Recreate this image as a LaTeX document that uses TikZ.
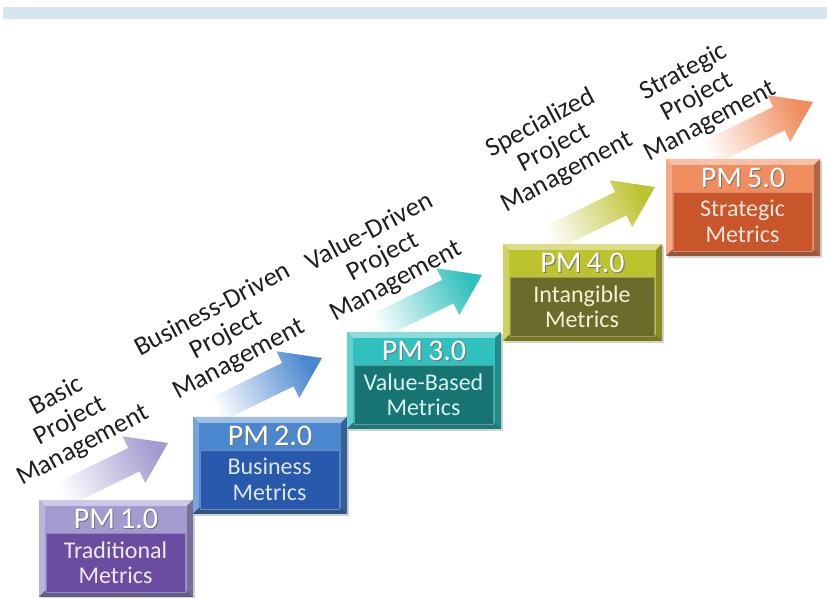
\documentclass[tikz,border=0pt]{standalone}
\usepackage{fontspec}
\setmainfont{Carlito}
\usetikzlibrary{calc}

\definecolor{bandBlue}{HTML}{D6E6EF}
\definecolor{pmPurple}{HTML}{A39BD0}
\definecolor{pmPurpleDark}{HTML}{6C4CA0}
\definecolor{pmBlue}{HTML}{4A87CF}
\definecolor{pmBlueDark}{HTML}{2959AC}
\definecolor{pmTeal}{HTML}{30C0BD}
\definecolor{pmTealDark}{HTML}{167572}
\definecolor{pmOlive}{HTML}{BDC22F}
\definecolor{pmOliveDark}{HTML}{6D6B2C}
\definecolor{pmOrange}{HTML}{F08D5F}
\definecolor{pmOrangeDark}{HTML}{C8562A}

\tikzset{
  % seta larga com degradê (cauda branca -> ponta colorida)
  stepArrow/.style={top color=#1, bottom color=white, shading angle=-64},
  % texto inclinado acima de cada seta
  stepLabel/.style={rotate=28, align=center, text=black!88, inner sep=0pt,
    font=\fontsize{20}{21}\selectfont},
  % "PM x.0" no topo da caixa
  pmTitle/.style={text=white, inner sep=0pt, font=\fontsize{22.5}{24}\selectfont},
  pmTitleShadow/.style={pmTitle, text=black!55},
  % texto do painel escuro
  pmBody/.style={align=center, inner sep=0pt, font=\fontsize{18}{19}\selectfont}
}

\begin{document}
\begin{tikzpicture}[x=0.75pt, y=0.75pt]
  \useasboundingbox (0,0) rectangle (827,598);

  % faixa azul do topo
  \fill[bandBlue] (3,579) rectangle (827,591);

  % --- DEGRAUS: seta, rótulo e caixa ---
  \foreach \i/\L/\R/\B/\fc/\ic/\body/\tx/\ty/\lx/\ly/\lab in {
      1/39/193/1/pmPurple/pmPurpleDark/{Traditional\\Metrics}/168/155/70/177/{Basic\\Project\\Management},
      2/193/347/84/pmBlue/pmBlueDark/{Business\\Metrics}/322/240/226/263/{Business-Driven\\Project\\Management},
      3/347/501/169/pmTeal/pmTealDark/{Value-Based\\Metrics}/482/323/383/341/{Value-Driven\\Project\\Management},
      4/503/662/257/pmOlive/pmOliveDark/{Intangible\\Metrics}/655/411/554/450/{Specialized\\Project\\Management},
      5/666/820/342/pmOrange/pmOrangeDark/{Strategic\\Metrics}/813/496/697/501/{Strategic\\Project\\Management}} {

    % Seta (eixo a 26 graus)
    \coordinate (tip\i) at (\tx,\ty);
    \shade[stepArrow=\fc] (tip\i)
      -- ($(tip\i)+(206:38)+(116:26)$)
      -- ($(tip\i)+(206:38)+(116:13)$)
      -- ($(tip\i)+(206:125)+(116:13)$)
      -- ($(tip\i)+(206:125)+(296:13)$)
      -- ($(tip\i)+(206:38)+(296:13)$)
      -- ($(tip\i)+(206:38)+(296:26)$)
      -- cycle;

    \node[stepLabel] (lab\i) at (\lx,\ly) {\lab};

    % Caixa em relevo
    \fill[black!35, opacity=0.5] (\L+2,\B-2) rectangle (\R+2,\B+95);
    \fill[\fc] (\L,\B) rectangle (\R,\B+97);
    \fill[\fc!55!white] (\L,\B+97) -- (\R,\B+97) -- (\R-6,\B+91) -- (\L+6,\B+91) -- cycle;
    \fill[\fc!75!white] (\L,\B+97) -- (\L+6,\B+91) -- (\L+6,\B+6) -- (\L,\B) -- cycle;
    \fill[\fc!72!black] (\R,\B+97) -- (\R,\B) -- (\R-6,\B+6) -- (\R-6,\B+91) -- cycle;
    \fill[\fc!62!black] (\L,\B) -- (\R,\B) -- (\R-6,\B+6) -- (\L+6,\B+6) -- cycle;
    \fill[\fc] (\L+6,\B+6) rectangle (\R-6,\B+91);

    % Painel escuro
    \filldraw[fill=\ic, draw=\ic!70!white, line width=0.6pt] (\L+7,\B+5) rectangle (\R-8,\B+64);

    \node[pmTitleShadow] (s\i) at ({(\L+\R)/2+1}, \B+77) {PM\,\i.0};
    \node[pmTitle] (t\i) at ({(\L+\R)/2}, \B+78) {PM\,\i.0};
    \node[pmBody, text=\fc!20!white] (b\i) at ({(\L+\R)/2-0.5}, \B+34.5) {\body};
  }
\end{tikzpicture}
\end{document}
